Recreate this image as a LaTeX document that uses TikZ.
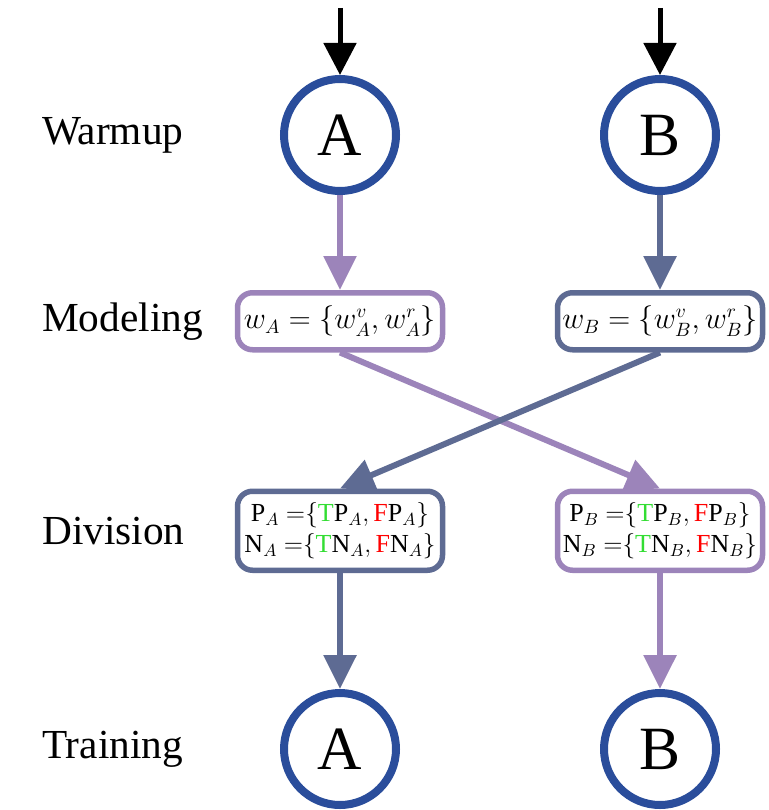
\documentclass[tikz,border=0pt]{standalone}
\usepackage{fontspec}
\setmainfont{Liberation Serif}
\usetikzlibrary{positioning,arrows.meta}
\definecolor{ringBlue}{HTML}{2A4D9B}
\definecolor{lilac}{HTML}{9C84BA}
\definecolor{slate}{HTML}{5E6B93}
\definecolor{brightGreen}{HTML}{33DD33}

\begin{document}
\begin{tikzpicture}[
      ring/.style={circle, draw=ringBlue, line width=0.16cm, minimum size=2.24cm,
                   inner sep=0pt, font=\fontsize{35}{40}\selectfont},
      box/.style={draw, line width=0.11cm, rounded corners=0.3cm, minimum width=4.1cm,
                  align=center, inner xsep=2pt, inner ysep=4pt},
      stage/.style={anchor=west, font=\fontsize{23.5}{28}\selectfont},
      arr/.style={-{Triangle[width=0.64cm,length=0.68cm]}, line width=0.12cm},
      feed/.style={-{Triangle[width=0.64cm,length=0.64cm]}, line width=0.1cm, black}]
    \useasboundingbox (0,0) rectangle (15.36,-16.2);
    % column A
    \node[ring] (wa) at (6.8,-2.7) {A};
    \node[box, draw=lilac, minimum height=1.14cm, below=1.9cm of wa, font=\fontsize{16}{19}\selectfont] (ma)
      {$w_A=\{w_A^v,w_A^r\}$};
    \node[box, draw=slate, minimum height=1.58cm, below=2.72cm of ma, font=\fontsize{14.8}{18}\selectfont] (da)
      {$\mathrm{P}_A\ {=}\{\textcolor{brightGreen}{\mathrm{T}}\mathrm{P}_A,\textcolor{red}{\mathrm{F}}\mathrm{P}_A\}$\\
       $\mathrm{N}_A\ {=}\{\textcolor{brightGreen}{\mathrm{T}}\mathrm{N}_A,\textcolor{red}{\mathrm{F}}\mathrm{N}_A\}$};
    \node[ring, below=2.32cm of da] (ta) {A};
    % column B
    \node[ring] (wb) at (13.2,-2.7) {B};
    \node[box, draw=slate, minimum height=1.14cm, below=1.9cm of wb, font=\fontsize{16}{19}\selectfont] (mb)
      {$w_B=\{w_B^v,w_B^r\}$};
    \node[box, draw=lilac, minimum height=1.58cm, below=2.72cm of mb, font=\fontsize{14.8}{18}\selectfont] (db)
      {$\mathrm{P}_B\ {=}\{\textcolor{brightGreen}{\mathrm{T}}\mathrm{P}_B,\textcolor{red}{\mathrm{F}}\mathrm{P}_B\}$\\
       $\mathrm{N}_B\ {=}\{\textcolor{brightGreen}{\mathrm{T}}\mathrm{N}_B,\textcolor{red}{\mathrm{F}}\mathrm{N}_B\}$};
    \node[ring, below=2.32cm of db] (tb) {B};
    % stage labels
    \node[stage] (lwarm) at (0.72,0 |- wa) {Warmup};
    \node[stage] (lmodel) at (0.72,0 |- ma) {Modeling};
    \node[stage] (ldiv) at (0.72,0 |- da) {Division};
    \node[stage] (ltrain) at (0.72,0 |- ta) {Training};
    % inputs
    \coordinate (ina) at (6.8,-0.16);
    \coordinate (inb) at (13.2,-0.16);
    \draw[feed] (ina) -- (wa);
    \draw[feed] (inb) -- (wb);
    \draw[arr, lilac] (wa) -- (ma);
    \draw[arr, slate] (wb) -- (mb);
    \draw[arr, lilac] (ma.south) -- (db.north);
    \draw[arr, slate] (mb.south) -- (da.north);
    \draw[arr, slate] (da) -- (ta);
    \draw[arr, lilac] (db) -- (tb);
  \end{tikzpicture}
\end{document}
